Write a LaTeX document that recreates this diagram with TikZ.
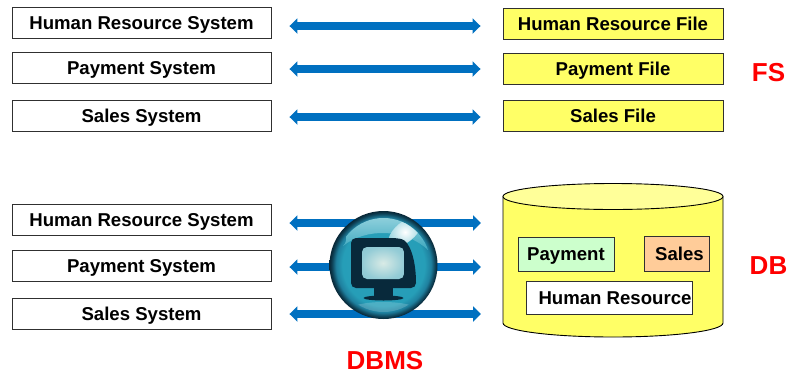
\documentclass[tikz,border=0pt]{standalone}
\usepackage{fontspec}
\setmainfont{Liberation Sans}
\usetikzlibrary{arrows.meta,positioning}
\definecolor{arrowblue}{HTML}{0070C0}
\definecolor{boxedge}{HTML}{303030}
\definecolor{fileyellow}{HTML}{FFFF66}
\definecolor{topyellow}{HTML}{FFFF99}
\definecolor{paygreen}{HTML}{CCFFCC}
\definecolor{salesorange}{HTML}{FFCC99}
\definecolor{monitordark}{HTML}{08293B}
\definecolor{bubblelight}{HTML}{8FD0DC}
\definecolor{bubblemid}{HTML}{3DA8BF}
\definecolor{bubbleshine}{HTML}{BFE3E8}
\pgfdeclareradialshading{bubbleball}{\pgfpoint{0bp}{0bp}}{%
  rgb(0bp)=(0.16,0.62,0.72);
  rgb(19bp)=(0.15,0.62,0.72);
  rgb(22bp)=(0.12,0.50,0.62);
  rgb(24bp)=(0.05,0.24,0.32);
  rgb(25bp)=(0.03,0.15,0.21);
  rgb(50bp)=(0.03,0.15,0.21)}
\pgfdeclareradialshading{bubblescreen}{\pgfpoint{0bp}{0bp}}{%
  rgb(0bp)=(0.85,0.92,0.90);
  rgb(25bp)=(0.58,0.80,0.84);
  rgb(50bp)=(0.50,0.75,0.80)}
\tikzset{
  basebox/.style={draw=boxedge,line width=0.9pt,inner sep=0pt,text depth=0pt,font=\bfseries\fontsize{18.6}{20}\selectfont,text=black},
  sysbox/.style={basebox,text height=14pt,fill=white,minimum width=259pt,minimum height=31pt},
  filebox/.style={basebox,text height=13pt,fill=fileyellow,minimum width=220pt,minimum height=31pt},
  partbox/.style={basebox,text height=13.5pt,line width=0.8pt},
  biarrow/.style={draw=arrowblue,line width=8pt,{Triangle[length=8pt,width=15pt]}-{Triangle[length=8pt,width=15pt]},shorten <=18pt,shorten >=22pt},
  biglabel/.style={inner sep=0pt,text=red,font=\bfseries\fontsize{26}{28}\selectfont},
}
\begin{document}
\begin{tikzpicture}[x=1pt,y=-1pt]
\useasboundingbox (0,0) rectangle (790,376);
% top rows
\node[sysbox] (s1) at (141.5,22.5) {Human Resource System};
\node[sysbox] (s2) at (141.5,67.5) {Payment System};
\node[sysbox] (s3) at (141.5,115.5) {Sales System};
\node[filebox] (f1) at (613,23.5) {Human Resource File};
\node[filebox] (f2) at (613,68.5) {Payment File};
\node[filebox] (f3) at (613,115.5) {Sales File};
% lower rows
\node[sysbox] (d1) at (141.5,219.5) {Human Resource System};
\node[sysbox] (d2) at (141.5,265.5) {Payment System};
\node[sysbox] (d3) at (141.5,313.5) {Sales System};
% arrow rows
\coordinate (ra1) at (0,26);
\coordinate (ra2) at (0,69);
\coordinate (ra3) at (0,117);
\coordinate (rb1) at (0,223);
\coordinate (rb2) at (0,267);
\coordinate (rb3) at (0,314);
\draw[biarrow] (s1.east |- ra1) -- (f1.west |- ra1);
\draw[biarrow] (s2.east |- ra2) -- (f2.west |- ra2);
\draw[biarrow] (s3.east |- ra3) -- (f3.west |- ra3);
% cylinder
\path[draw=black,line width=0.9pt,fill=fileyellow]
  (503,197) -- (503,323) arc[start angle=180,end angle=0,x radius=110,y radius=14]
  -- (723,197) arc[start angle=0,end angle=-180,x radius=110,y radius=13] -- cycle;
\draw[black,line width=0.9pt,fill=topyellow] (613,196.5) ellipse[x radius=110,y radius=13];
\node[partbox,fill=paygreen,minimum width=96pt,minimum height=34pt] (pay) at (566,254) {Payment};
\node[partbox,fill=salesorange,minimum width=65pt,minimum height=35pt] (sal) at (676.5,253.5) {\hspace*{6pt}Sales};
\node[partbox,fill=white,minimum width=166pt,minimum height=33pt] (hr) at (609,297.5) {\hspace*{12pt}Human Resource};
% lower arrows
\coordinate (dbl) at (503,0);
\draw[biarrow] (d1.east |- rb1) -- (dbl |- rb1);
\draw[biarrow] (d2.east |- rb2) -- (dbl |- rb2);
\draw[biarrow] (d3.east |- rb3) -- (dbl |- rb3);
% DBMS bubble
\shade[shading=bubbleball] (383.5,265) circle (54);
\begin{scope}
  \clip (383.5,265) circle (47);
  \shade[top color=bubblelight,bottom color=bubblemid] (336,217) .. controls (345,225) and (350,240) .. (343,246)
     .. controls (365,228) and (405,228) .. (428,250) -- (432,217) -- cycle;
  \fill[white,opacity=0.18] (383.5,310) ellipse (34 and 8);
  \begin{scope}[rotate around={40:(405,232)}]
    \shade[inner color=white,outer color=bubblelight] (405,232) ellipse (20 and 10);
  \end{scope}
\end{scope}
\fill[monitordark,rounded corners=5pt] (351,238) -- (397,238)
  .. controls (409,241) and (416,258) .. (416,288) -- (351,288) -- cycle;
\fill[monitordark] (374,287) rectangle (393,296);
\fill[monitordark] (383.5,298) ellipse (20 and 2.5);
\begin{scope}
  \clip[rounded corners=5pt] (362,247) rectangle (404,279);
  \shade[shading=bubblescreen] (362,247) rectangle (404,279);
\end{scope}
% labels
\node[biglabel] (fs) at (768.5,72.5) {FS};
\node[biglabel] (db) at (768.5,265.5) {DB};
\node[biglabel] (dbms) at (385,361) {DBMS};
\end{tikzpicture}
\end{document}
